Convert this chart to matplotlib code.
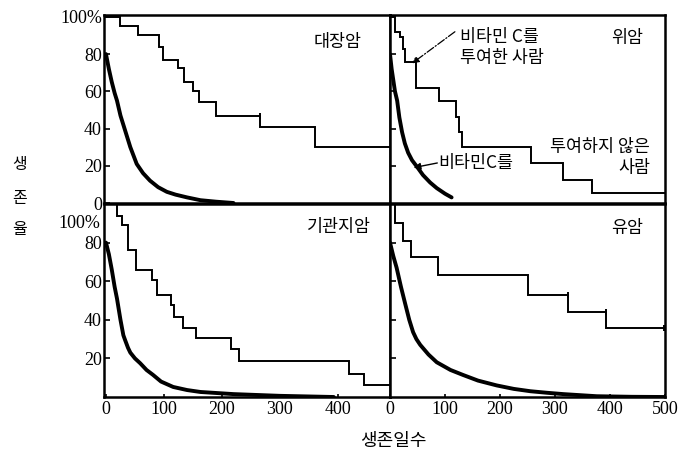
import matplotlib
matplotlib.use('Agg')
import matplotlib.pyplot as plt

plt.rcParams['font.family'] = ['Liberation Serif', 'DejaVu Serif', 'Noto Sans CJK KR']
KR = ['Noto Sans CJK KR', 'DejaVu Sans']

# survival curves: (day, percent)
# 대장암 (colon)
colon_c_days = [0, 24, 24, 55, 55, 92, 92, 99, 99, 125, 125, 135, 135, 151, 151, 161, 161, 189, 189, 265, 265, 360, 360, 500]
colon_c_pct = [100, 100, 95, 95, 90, 90, 84, 84, 77, 77, 72.5, 72.5, 65, 65, 60, 60, 54, 54, 47, 47, 41, 41, 30, 30]
colon_n_days = [0, 5, 10, 15, 19, 25, 33, 42, 53, 64, 76, 90, 105, 120, 140, 163, 190, 220]
colon_n_pct = [80, 72, 65, 59, 55, 47, 39, 30, 21, 16, 12, 8.5, 6, 4.5, 3, 1.5, 0.7, 0]

# 위암 (stomach)
stomach_c_days = [0, 9, 9, 18, 18, 24, 24, 27, 27, 47, 47, 89, 89, 120, 120, 126, 126, 131, 131, 256, 256, 314, 314, 367, 367, 500]
stomach_c_pct = [100, 100, 92, 92, 89, 89, 83, 83, 76, 76, 62, 62, 55, 55, 46, 46, 38, 38, 30, 30, 21.5, 21.5, 12.5, 12.5, 5.5, 5.5]
stomach_n_days = [0, 3, 6, 9, 13, 17, 22, 27, 33, 40, 49, 60, 73, 85, 100, 112]
stomach_n_pct = [80, 72, 66, 60, 55, 46, 38, 32, 27, 23, 19.5, 15, 11, 8, 5, 3]

# 기관지암 (bronchus)
bronch_c_days = [0, 19, 19, 28, 28, 38, 38, 52, 52, 79, 79, 88, 88, 112, 112, 118, 118, 133, 133, 156, 156, 216, 216, 230, 230, 419, 419, 445, 445, 490]
bronch_c_pct = [100, 100, 94, 94, 89, 89, 76, 76, 66, 66, 60.5, 60.5, 53, 53, 47.5, 47.5, 41.5, 41.5, 36, 36, 30.5, 30.5, 25, 25, 18.5, 18.5, 12, 12, 6, 6]
bronch_n_days = [0, 5, 10, 15, 19, 25, 30, 33, 38, 42, 50, 59, 70, 81, 95, 116, 140, 163, 220, 300, 393]
bronch_n_pct = [80, 74, 66, 57, 51, 40, 32, 29.5, 25.5, 23, 20, 17.5, 14, 11.5, 8, 5.2, 3.6, 2.6, 1.5, 0.6, 0]

# 유암 (breast)
breast_c_days = [0, 9, 9, 23, 23, 38, 38, 87, 87, 251, 251, 324, 324, 393, 393, 500]
breast_c_pct = [100, 100, 90, 90, 81, 81, 72.5, 72.5, 63, 63, 53, 53, 44, 44, 35.7, 35.7]
breast_n_days = [0, 6, 12, 20, 27, 35, 42, 48, 55, 70, 85, 110, 133, 160, 194, 225, 255, 285, 315, 376, 440, 500]
breast_n_pct = [80, 73, 67, 57, 49, 40, 33.6, 30, 27, 22, 18, 14, 11.4, 8.5, 6, 4.2, 3, 2.2, 1.5, 0.4, 0.1, 0]

censor_days = {'colon': [265], 'breast': [324, 393, 499]}
censor_pct = {'colon': [47], 'breast': [53, 44, 35.7]}

fig = plt.figure(figsize=(6.82, 4.51), dpi=100)
W, H = 682, 451


def make_ax(x0, x1, y0, y1):
    return fig.add_axes([x0 / W, 1 - y1 / H, (x1 - x0) / W, (y1 - y0) / H])


ax_tl = make_ax(104, 390, 15, 203)
ax_tr = make_ax(390, 665, 15, 203)
ax_bl = make_ax(104, 390, 204, 397)
ax_br = make_ax(390, 665, 204, 397)

panels = [
    (ax_tl, colon_c_days, colon_c_pct, colon_n_days, colon_n_pct, '대장암', (0.90, 0.855), 'colon'),
    (ax_tr, stomach_c_days, stomach_c_pct, stomach_n_days, stomach_n_pct, '위암', (0.92, 0.88), None),
    (ax_bl, bronch_c_days, bronch_c_pct, bronch_n_days, bronch_n_pct, '기관지암', (0.935, 0.88), None),
    (ax_br, breast_c_days, breast_c_pct, breast_n_days, breast_n_pct, '유암', (0.92, 0.875), 'breast'),
]

for ax, cd, cp, nd, np_, title, tpos, ckey in panels:
    ax.plot(cd, cp, color='black', lw=1.4, solid_joinstyle='miter', clip_on=False)
    ax.plot(nd, np_, color='black', lw=2.8, solid_capstyle='round', solid_joinstyle='round')
    if ckey:
        ax.plot(censor_days[ckey], censor_pct[ckey], ls='none', marker='|', ms=5, mew=1.4, color='black')
    ax.text(tpos[0], tpos[1], title, transform=ax.transAxes, ha='right', va='center',
            fontsize=12.5, family=KR, weight='light')
    for s in ax.spines.values():
        s.set_linewidth(1.8)
    ax.tick_params(direction='in', length=4, width=1.2, pad=1.5, labelsize=13)

for ax in (ax_tl, ax_bl):
    ax.set_xlim(-3.4, 490)
for ax in (ax_tr, ax_br):
    ax.set_xlim(0, 500)
for ax in (ax_tl, ax_tr):
    ax.set_ylim(0, 101)
for ax in (ax_bl, ax_br):
    ax.set_ylim(0, 100)

ax_tl.set_yticks([0, 20, 40, 60, 80, 100])
ax_tl.set_yticklabels(['0', '20', '40', '60', '80', '100%'])
ax_bl.set_yticks([20, 40, 60, 80])
ax_bl.set_yticklabels(['20', '40', '60', '80'])
ax_bl.text(-0.012, 90, '100%', transform=ax_bl.get_yaxis_transform(), ha='right', va='center',
           fontsize=13)
for ax in (ax_tr, ax_br):
    ax.set_yticks([20, 40, 60, 80])
    ax.set_yticklabels([])

for ax in (ax_tl, ax_tr):
    ax.set_xticks([])
ax_bl.set_xticks([0, 100, 200, 300, 400])
ax_br.set_xticks([0, 100, 200, 300, 400, 500])
for ax in (ax_bl, ax_br):
    ax.tick_params(axis='x', length=2, pad=3)

# annotations in the stomach panel
ax_tr.text(127, 83.5, '비타민 C를\n투여한 사람', ha='left', va='center', fontsize=12.5,
           family=KR, weight='light', linespacing=1.2)
ax_tr.annotate('', xy=(40, 75), xytext=(118, 92),
               arrowprops=dict(arrowstyle='-|>', ls='-.', lw=0.9, color='black',
                               mutation_scale=10, shrinkA=0, shrinkB=0))
ax_tr.text(473, 24.5, '투여하지 않은\n사람', ha='right', va='center', fontsize=12.5,
           family=KR, weight='light', linespacing=1.2, multialignment='right')
ax_tr.text(87, 21.5, '비타민C를', ha='left', va='center', fontsize=12.5, family=KR, weight='light')
ax_tr.annotate('', xy=(43, 19), xytext=(86, 21.5),
               arrowprops=dict(arrowstyle='-|>', lw=1.0, color='black',
                               mutation_scale=10, shrinkA=0, shrinkB=0))

# axis titles
for ch, yy in zip('생존율', [165, 199, 229]):
    fig.text(20 / W, 1 - yy / H, ch, ha='center', va='center', fontsize=11.5, family=KR, weight='light')
fig.text(393 / W, 1 - 441 / H, '생존일수', ha='center', va='center', fontsize=13, family=KR, weight='light')

fig.savefig('out.png', dpi=100)
